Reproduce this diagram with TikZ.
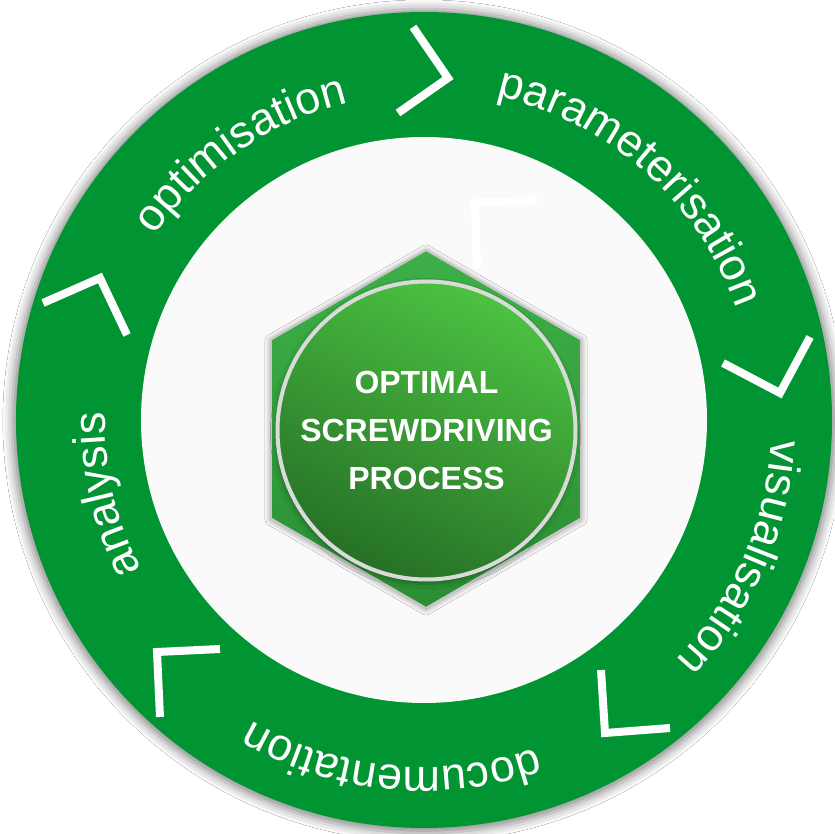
\documentclass[tikz,border=0pt]{standalone}
\usepackage{fontspec}
\setmainfont{Liberation Sans}
\newfontfamily\ringfont{Liberation Sans}
\usetikzlibrary{decorations.text,shadows.blur}

\definecolor{ringgreen}{RGB}{0,149,50}
\definecolor{hextop}{RGB}{62,176,72}
\definecolor{hexbot}{RGB}{42,142,50}
\definecolor{coretop}{RGB}{76,194,66}
\definecolor{corebot}{RGB}{38,112,38}
\definecolor{coreedge}{RGB}{218,218,218}
\definecolor{innergray}{RGB}{250,250,250}

\begin{document}
\begin{tikzpicture}[x=1pt,y=1pt,
      ring/.style ={fill=ringgreen,blur shadow={shadow xshift=0pt,shadow yshift=-1pt,shadow scale=1.01,shadow blur radius=9pt,shadow opacity=45}},
      hex/.style  ={draw=gray!45,line width=2,top color=hextop,bottom color=hexbot,
                    blur shadow={shadow xshift=0pt,shadow yshift=-1pt,shadow blur radius=6pt,shadow opacity=45}},
      core/.style ={circle,draw=coreedge,line width=4,minimum size=298,inner sep=0,align=center,
                    top color=coretop,bottom color=corebot,shading angle=-25,text=white,
                    font=\bfseries\fontsize{32}{48}\selectfont,
                    blur shadow={shadow xshift=-1pt,shadow yshift=-3pt,shadow blur radius=6pt,shadow opacity=40}},
      chev/.style ={draw=white,line width=8}]
      \useasboundingbox[fill=white] (-424,-414) rectangle (410,420);
      % Ring
      \def\outrad{408}
      \def\inrad{283}
      \path[ring] (0,0) circle (\outrad);
      \fill[innergray] (0,0) circle (\inrad);

      % Hexagon vertices
      \def\hexrad{179}
      \foreach \i [count=\j] in {90,30,-30,-90,-150,150}{\coordinate (H\j) at ([shift={(2,-9)}]\i:\hexrad);}
      % Hexagon
      \path[hex] (H1)--(H2)--(H3)--(H4)--(H5)--(H6)--cycle;
      % Core
      \node[core] (core) at (2.5,-10.5) {OPTIMAL\\SCREWDRIVING\\PROCESS};

      % Macro: label along the ring, clockwise, centred on an angle
      \newcommand{\ringlabel}[3]{% angle, radius, text
        \path[decorate,decoration={text along path,text align=center,text color=white,
              text={|\ringfont\fontsize{45}{54}\selectfont|#3}}]
              ({#1+60}:#2) arc[start angle={#1+60},end angle={#1-60},radius=#2];
      }
      \ringlabel{124.5}{326}{optimisation}
      \ringlabel{48.5}{332}{parameterisation}
      \ringlabel{-23.4}{348}{visualisation}
      \ringlabel{-95.5}{347}{documentation}
      \ringlabel{193.25}{319}{analysis}

      % Chevrons between the stages
      \foreach \a/\b/\c in {{-11,393}/{24,342}/{-26,307},
                            {299,57}/{356,27}/{386,83},
                            {177,-250}/{181,-313}/{246,-308},
                            {-204,-229}/{-267,-232}/{-264,-297},
                            {-381,117}/{-324,142}/{-297,85},
                            {53,152}/{51,217}/{113,220}}
        {\draw[chev] (\a) -- (\b) -- (\c);}
  \end{tikzpicture}
\end{document}
